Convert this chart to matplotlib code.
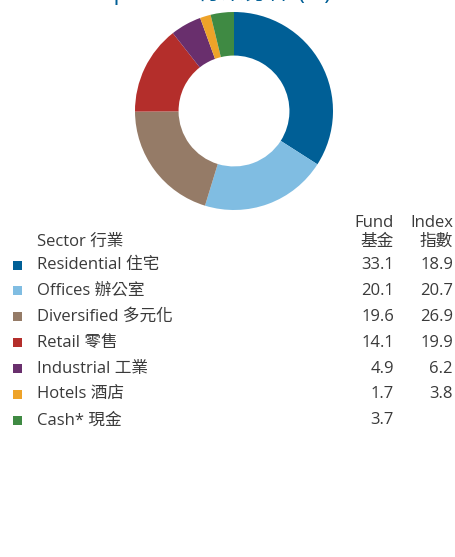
import matplotlib.pyplot as plt
from matplotlib.patches import Rectangle

plt.rcParams['font.family'] = ['Open Sans', 'Noto Sans CJK TC', 'DejaVu Sans']

sectors = ['Residential 住宅', 'Offices 辦公室', 'Diversified 多元化', 'Retail 零售',
           'Industrial 工業', 'Hotels 酒店', 'Cash* 現金']
fund = [33.1, 20.1, 19.6, 14.1, 4.9, 1.7, 3.7]
index = [18.9, 20.7, 26.9, 19.9, 6.2, 3.8, None]
colors = ['#005f96', '#80bde2', '#957b67', '#b42e2b', '#692f6d', '#eea329', '#3f8a43']

W, H = 455, 557
fig = plt.figure(figsize=(W / 100, H / 100), dpi=100)

# donut
ax = fig.add_axes([135 / W, (H - 210) / H, 198 / W, 198 / H])
ax.pie(fund, colors=colors, startangle=90, counterclock=False,
       wedgeprops=dict(width=0.44, linewidth=0))
ax.set_xlim(-1, 1)
ax.set_ylim(-1, 1)
ax.set_aspect('equal')
ax.axis('off')

# table area in pixel coordinates
tx = fig.add_axes([0, 0, 1, 1])
tx.set_xlim(0, W)
tx.set_ylim(H, 0)
tx.axis('off')

txt = '#3a3a3a'
fs = 12

# title (runs off the top edge)
tx.text(12, -1, 'Sector Exposure 行業分佈 (%)', color='#005f96', fontsize=17,
        va='baseline', ha='left')

tx.text(37, 242, 'Sector 行業', color=txt, fontsize=fs, va='center')
tx.text(394, 223, 'Fund', color=txt, fontsize=fs, va='center', ha='right')
tx.text(394, 242, '基金', color=txt, fontsize=fs, va='center', ha='right')
tx.text(453, 223, 'Index', color=txt, fontsize=fs, va='center', ha='right')
tx.text(453, 242, '指數', color=txt, fontsize=fs, va='center', ha='right')

y0, dy = 265, 25.9
for i, (name, f, ix, c) in enumerate(zip(sectors, fund, index, colors)):
    y = y0 + i * dy
    tx.add_patch(Rectangle((13, y - 4.5), 9, 9, color=c, lw=0))
    tx.text(37, y, name, color=txt, fontsize=fs, va='center')
    tx.text(394, y, f'{f:.1f}', color=txt, fontsize=fs, va='center', ha='right')
    if ix is not None:
        tx.text(453, y, f'{ix:.1f}', color=txt, fontsize=fs, va='center', ha='right')

fig.savefig('out.png', dpi=100)
